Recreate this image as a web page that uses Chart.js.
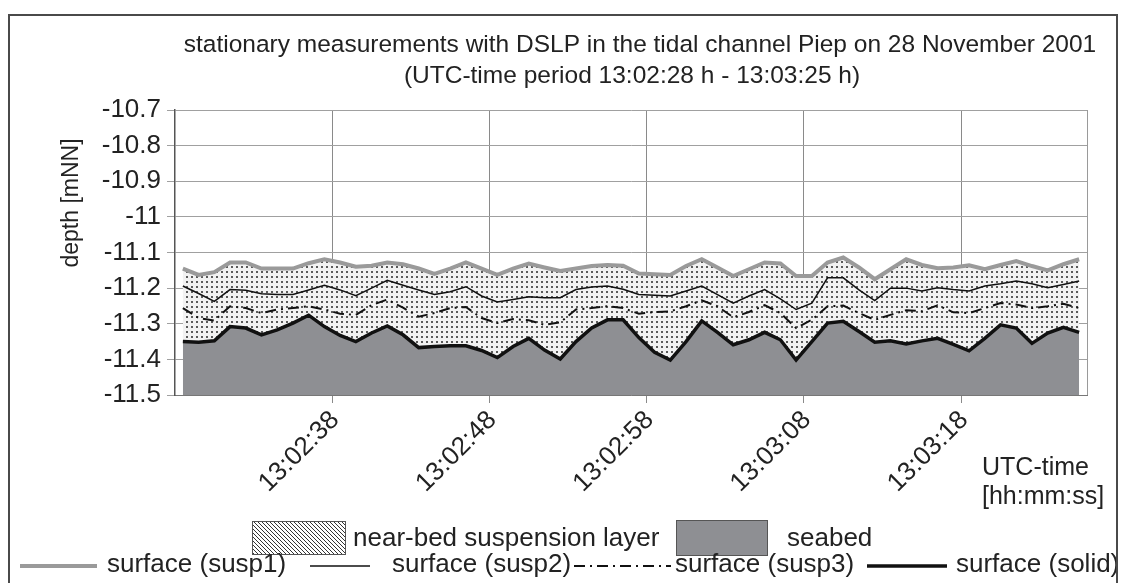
<!DOCTYPE html>
<html>
<head>
<meta charset="utf-8">
<script src="https://cdn.jsdelivr.net/npm/chart.js@4"></script>
<style>
  html, body { margin: 0; padding: 0; background: #fff; overflow: hidden; }
  #box { width: 1123px; height: 583px; }
</style>
</head>
<body>
<div id="box"><canvas id="depth"></canvas></div>
<script>
// one sample per second, 13:02:28 .. 13:03:25
const times = [
  '13:02:28', '13:02:29', '13:02:30', '13:02:31', '13:02:32', '13:02:33', '13:02:34', '13:02:35', '13:02:36', '13:02:37',
  '13:02:38', '13:02:39', '13:02:40', '13:02:41', '13:02:42', '13:02:43', '13:02:44', '13:02:45', '13:02:46', '13:02:47',
  '13:02:48', '13:02:49', '13:02:50', '13:02:51', '13:02:52', '13:02:53', '13:02:54', '13:02:55', '13:02:56', '13:02:57',
  '13:02:58', '13:02:59', '13:03:00', '13:03:01', '13:03:02', '13:03:03', '13:03:04', '13:03:05', '13:03:06', '13:03:07',
  '13:03:08', '13:03:09', '13:03:10', '13:03:11', '13:03:12', '13:03:13', '13:03:14', '13:03:15', '13:03:16', '13:03:17',
  '13:03:18', '13:03:19', '13:03:20', '13:03:21', '13:03:22', '13:03:23', '13:03:24', '13:03:25'
];

const susp1 = [
  -11.145, -11.163, -11.155, -11.128, -11.128, -11.145, -11.145, -11.145, -11.130, -11.119,
  -11.128, -11.140, -11.137, -11.128, -11.133, -11.145, -11.160, -11.145, -11.128, -11.145,
  -11.163, -11.145, -11.131, -11.142, -11.152, -11.145, -11.138, -11.135, -11.137, -11.159,
  -11.161, -11.163, -11.138, -11.119, -11.142, -11.166, -11.147, -11.128, -11.131, -11.166,
  -11.166, -11.128, -11.114, -11.142, -11.175, -11.147, -11.119, -11.135, -11.144, -11.142,
  -11.136, -11.147, -11.135, -11.124, -11.138, -11.150, -11.133, -11.119
];
const susp2 = [
  -11.194, -11.215, -11.237, -11.204, -11.206, -11.216, -11.218, -11.218, -11.205, -11.192,
  -11.205, -11.221, -11.200, -11.178, -11.192, -11.205, -11.218, -11.210, -11.196, -11.222,
  -11.239, -11.232, -11.224, -11.227, -11.227, -11.204, -11.197, -11.194, -11.203, -11.218,
  -11.220, -11.222, -11.208, -11.194, -11.218, -11.242, -11.222, -11.204, -11.230, -11.260,
  -11.242, -11.171, -11.171, -11.205, -11.235, -11.200, -11.200, -11.208, -11.199, -11.204,
  -11.208, -11.194, -11.188, -11.180, -11.188, -11.199, -11.190, -11.180
];
const susp3 = [
  -11.256, -11.284, -11.291, -11.251, -11.256, -11.270, -11.260, -11.256, -11.251, -11.260,
  -11.272, -11.275, -11.248, -11.232, -11.255, -11.280, -11.270, -11.256, -11.253, -11.284,
  -11.298, -11.287, -11.290, -11.303, -11.296, -11.260, -11.256, -11.251, -11.256, -11.272,
  -11.267, -11.265, -11.251, -11.234, -11.251, -11.282, -11.267, -11.248, -11.270, -11.312,
  -11.289, -11.251, -11.249, -11.270, -11.289, -11.275, -11.262, -11.265, -11.248, -11.268,
  -11.270, -11.256, -11.242, -11.246, -11.256, -11.251, -11.244, -11.256
];
const solid = [
  -11.350, -11.352, -11.348, -11.308, -11.312, -11.331, -11.317, -11.298, -11.276, -11.308,
  -11.333, -11.350, -11.326, -11.306, -11.331, -11.367, -11.364, -11.362, -11.362, -11.375,
  -11.395, -11.364, -11.341, -11.374, -11.399, -11.350, -11.312, -11.289, -11.289, -11.339,
  -11.380, -11.402, -11.350, -11.292, -11.324, -11.359, -11.345, -11.324, -11.345, -11.402,
  -11.350, -11.298, -11.293, -11.322, -11.352, -11.348, -11.357, -11.348, -11.341, -11.358,
  -11.376, -11.341, -11.303, -11.312, -11.355, -11.326, -11.310, -11.324
];

const FONT = '"Liberation Sans", Arial, sans-serif';
const INK = '#222';
const SEABED = '#8e8f93';

// stipple used for the suspension layer in the plot
function dots() {
  const c = document.createElement('canvas');
  c.width = 5; c.height = 5;
  const g = c.getContext('2d');
  g.fillStyle = '#f2f2f2';
  g.fillRect(0, 0, 5, 5);
  g.fillStyle = '#5a5a5a';
  g.fillRect(1, 1, 2, 2);
  return g.createPattern(c, 'repeat');
}

// hatch used for the legend swatch
function hatch(ctx) {
  const c = document.createElement('canvas');
  c.width = 4; c.height = 4;
  const g = c.getContext('2d');
  g.fillStyle = '#fff';
  g.fillRect(0, 0, 4, 4);
  g.strokeStyle = '#333';
  g.lineWidth = 1;
  g.beginPath();
  g.moveTo(-1, -1); g.lineTo(5, 5);
  g.moveTo(-1, 3); g.lineTo(1, 5);
  g.moveTo(3, -1); g.lineTo(5, 1);
  g.stroke();
  return ctx.createPattern(c, 'repeat');
}

const decor = {
  id: 'decor',
  beforeDatasetsDraw(chart) {
    const { ctx, chartArea: a } = chart;
    ctx.save();
    ctx.strokeStyle = '#9a9a9a';
    ctx.lineWidth = 1;
    ctx.beginPath();
    ctx.moveTo(a.right + 0.5, a.top);
    ctx.lineTo(a.right + 0.5, a.bottom);
    ctx.stroke();
    ctx.restore();
  },
  afterDraw(chart) {
    const ctx = chart.ctx;
    ctx.save();
    ctx.fillStyle = INK;
    ctx.textBaseline = 'middle';

    // title
    ctx.font = '24.5px ' + FONT;
    ctx.textAlign = 'center';
    ctx.fillText('stationary measurements with DSLP in the tidal channel Piep on 28 November 2001', 640, 45);
    ctx.fillText('(UTC-time period 13:02:28 h - 13:03:25 h)', 632, 76);

    // axis titles
    ctx.font = '23px ' + FONT;
    ctx.save();
    ctx.translate(72, 203);
    ctx.rotate(-Math.PI / 2);
    ctx.fillText('depth [mNN]', 0, 0);
    ctx.restore();
    ctx.font = '25px ' + FONT;
    ctx.textAlign = 'left';
    ctx.fillText('UTC-time', 982, 468);
    ctx.fillText('[hh:mm:ss]', 982, 497);

    // legend, row 1: areas
    ctx.font = '26px ' + FONT;
    ctx.fillStyle = hatch(ctx);
    ctx.fillRect(252, 521, 93, 33);
    ctx.strokeStyle = '#555';
    ctx.lineWidth = 1;
    ctx.strokeRect(252.5, 521.5, 93, 33);
    ctx.fillStyle = SEABED;
    ctx.fillRect(676, 520, 91, 35);
    ctx.strokeRect(676.5, 520.5, 91, 35);
    ctx.fillStyle = INK;
    ctx.fillText('near-bed suspension layer', 353, 539);
    ctx.fillText('seabed', 787, 539);

    // legend, row 2: lines
    const spots = [[20, 97, 107], [310, 370, 392], [574, 671, 675], [867, 947, 956]];
    chart.data.datasets.forEach((ds, i) => {
      const [x0, x1, tx] = spots[i];
      ctx.strokeStyle = ds.borderColor;
      ctx.lineWidth = ds.borderWidth;
      ctx.setLineDash(ds.borderDash || []);
      ctx.beginPath();
      ctx.moveTo(x0, 566);
      ctx.lineTo(x1, 566);
      ctx.stroke();
      ctx.setLineDash([]);
      ctx.fillText(ds.label, tx, 565);
    });

    // outer frame
    ctx.strokeStyle = '#4a4a4a';
    ctx.lineWidth = 2;
    ctx.strokeRect(9, 15, 1108, 640);
    ctx.restore();
  }
};

const ctx = document.getElementById('depth').getContext('2d');

new Chart(ctx, {
  type: 'line',
  data: {
    labels: times,
    datasets: [
      {
        label: 'surface (susp1)',
        data: susp1,
        borderColor: '#9a9a9a',
        borderWidth: 4,
        backgroundColor: dots(),
        fill: 3
      },
      {
        label: 'surface (susp2)',
        data: susp2,
        borderColor: '#111',
        borderWidth: 1.5,
        fill: false
      },
      {
        label: 'surface (susp3)',
        data: susp3,
        borderColor: '#111',
        borderWidth: 2,
        borderDash: [11, 5, 2, 5],
        fill: false
      },
      {
        label: 'surface (solid)',
        data: solid,
        borderColor: '#111',
        borderWidth: 3.5,
        backgroundColor: SEABED,
        fill: 'start'
      }
    ]
  },
  options: {
    responsive: true,
    maintainAspectRatio: false,
    animation: false,
    events: [],
    layout: { padding: { top: 110, right: 36, bottom: 0, left: 0 } },
    elements: { point: { radius: 0 }, line: { tension: 0 } },
    plugins: {
      legend: { display: false },
      title: { display: false },
      tooltip: { enabled: false },
      filler: { drawTime: 'beforeDatasetsDraw' }
    },
    scales: {
      x: {
        offset: true,
        afterFit: (s) => { s.height = 188; },
        grid: {
          offset: true,
          color: (c) => (c.index > 0 && c.index < times.length && c.index % 10 === 0) ? '#8a8a8a' : 'rgba(0,0,0,0)',
          tickLength: 8
        },
        border: { color: '#777', width: 1 },
        ticks: {
          autoSkip: false,
          maxRotation: 45,
          minRotation: 45,
          padding: 2,
          labelOffset: -5,
          color: INK,
          font: { family: FONT, size: 26 },
          callback: (v, i) => (i > 0 && i % 10 === 0) ? times[i] : ''
        }
      },
      y: {
        min: -11.5,
        max: -10.7,
        afterFit: (s) => { s.width = 175; },
        grid: { color: '#a0a0a0', tickLength: 8 },
        border: { color: '#555', width: 1.5 },
        ticks: {
          stepSize: 0.1,
          padding: 6,
          color: INK,
          font: { family: FONT, size: 26 },
          callback: (v) => String(Number(v.toFixed(1)))
        }
      }
    }
  },
  plugins: [decor]
});
</script>
</body>
</html>
